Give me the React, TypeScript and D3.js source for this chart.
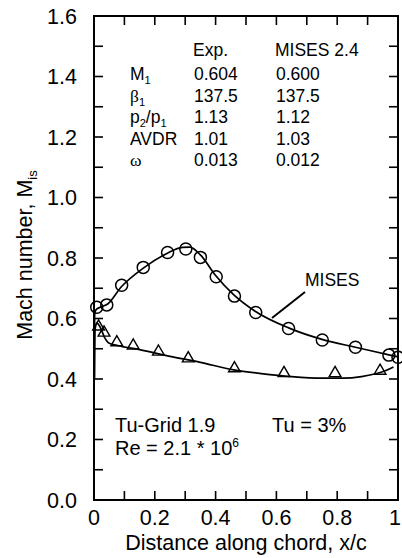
import React from "react";
import * as d3 from "d3";

// ---- data ----
const suctionExpX = [0.009, 0.042, 0.091, 0.162, 0.242, 0.302, 0.35, 0.402, 0.462, 0.532, 0.64, 0.751, 0.86, 0.97, 1.0];
const suctionExpM = [0.637, 0.645, 0.71, 0.769, 0.818, 0.83, 0.802, 0.738, 0.674, 0.62, 0.567, 0.529, 0.505, 0.479, 0.472];

const pressureExpX = [0.015, 0.033, 0.075, 0.129, 0.212, 0.31, 0.462, 0.625, 0.793, 0.941];
const pressureExpM = [0.573, 0.553, 0.521, 0.51, 0.49, 0.468, 0.435, 0.419, 0.419, 0.427];

const suctionMisesX = [0.0012, 0.002, 0.006, 0.02, 0.045, 0.09, 0.16, 0.24, 0.29, 0.315, 0.35, 0.4, 0.46, 0.53, 0.64, 0.75, 0.86, 0.97, 1.0];
const suctionMisesM = [0.4, 0.61, 0.628, 0.637, 0.648, 0.705, 0.765, 0.815, 0.835, 0.836, 0.81, 0.742, 0.678, 0.624, 0.569, 0.531, 0.505, 0.48, 0.473];

const pressureMisesX = [0.0012, 0.003, 0.01, 0.02, 0.035, 0.05, 0.08, 0.15, 0.25, 0.35, 0.46, 0.55, 0.65, 0.75, 0.82, 0.88, 0.93, 0.96, 0.985];
const pressureMisesM = [0.4, 0.56, 0.585, 0.572, 0.537, 0.518, 0.51, 0.497, 0.475, 0.455, 0.43, 0.418, 0.408, 0.403, 0.403, 0.408, 0.418, 0.428, 0.44];

const xTickLabels = ["0", "0.2", "0.4", "0.6", "0.8", "1"];
const yTickLabels = ["0.0", "0.2", "0.4", "0.6", "0.8", "1.0", "1.2", "1.4", "1.6"];

const tableHeader = ["Exp.", "MISES 2.4"];
const tableRows = ["M1", "beta1", "p2/p1", "AVDR", "omega"];
const tableExp = ["0.604", "137.5", "1.13", "1.01", "0.013"];
const tableMises = ["0.600", "137.5", "1.12", "1.03", "0.012"];

const FONT = "'Liberation Sans', Arial, Helvetica, sans-serif";

export default function App() {
  const W = 402, H = 558;
  const x = d3.scaleLinear().domain([0, 1]).range([94, 398]);
  const y = d3.scaleLinear().domain([0, 1.6]).range([500, 16]);
  const line = d3.line<[number, number]>().x(d => x(d[0])).y(d => y(d[1])).curve(d3.curveMonotoneX);

  const minorX = d3.range(1, 10).map(i => i / 10);
  const minorY = d3.range(1, 16).map(i => i / 10);
  const tl = 9;

  const tri = d3.symbol().type(d3.symbolTriangle).size(60)();

  const rowBase = [80, 101.5, 123, 144.5, 166];

  const rowLabel = (k: string) => {
    const sub = { fontSize: 11, baselineShift: "-4px" } as any;
    if (k === "M1") return (<>M<tspan style={sub}>1</tspan></>);
    if (k === "beta1") return (<tspan fontFamily="'Liberation Serif', serif">β<tspan style={sub} fontFamily={FONT}>1</tspan></tspan>);
    if (k === "p2/p1") return (<>p<tspan style={sub}>2</tspan><tspan>/p</tspan><tspan style={sub}>1</tspan></>);
    if (k === "omega") return (<tspan fontFamily="'Liberation Serif', serif">ω</tspan>);
    return k;
  };

  return (
    <svg width={W} height={H} style={{ position: "absolute", left: 0, top: 0, background: "#fff" }} fontFamily={FONT}>
      <rect x={0} y={0} width={W} height={H} fill="#fff" />
      {/* ticks */}
      <g stroke="#000" strokeWidth={1.6}>
        {minorX.map(v => (
          <g key={"xt" + v}>
            <line x1={x(v)} x2={x(v)} y1={y(0)} y2={y(0) - tl} />
            <line x1={x(v)} x2={x(v)} y1={y(1.6)} y2={y(1.6) + tl} />
          </g>
        ))}
        {minorY.map(v => (
          <g key={"yt" + v}>
            <line x1={x(0)} x2={x(0) + tl} y1={y(v)} y2={y(v)} />
            <line x1={x(1)} x2={x(1) - tl} y1={y(v)} y2={y(v)} />
          </g>
        ))}
      </g>
      <rect x={x(0)} y={y(1.6)} width={x(1) - x(0)} height={y(0) - y(1.6)} fill="none" stroke="#000" strokeWidth={2} />

      {/* tick labels */}
      {xTickLabels.map((t, i) => (
        <text key={"xl" + t} x={Math.min(x(i * 0.2), 395)} y={525} fontSize={21.5} textAnchor="middle">{t}</text>
      ))}
      {yTickLabels.map((t, i) => (
        <text key={"yl" + t} x={77} y={y(i * 0.2) + 7.5} fontSize={21.5} textAnchor="end">{t}</text>
      ))}
      <text x={246} y={550} fontSize={21.5} textAnchor="middle">Distance along chord, x/c</text>
      <text transform="translate(32,255) rotate(-90)" fontSize={21.5} textAnchor="middle">
        Mach number, M<tspan fontSize={13} baselineShift="-5px">is</tspan>
      </text>

      {/* MISES curves */}
      <path d={line(suctionMisesX.map((v, i) => [v, suctionMisesM[i]]) as any) || ""} fill="none" stroke="#000" strokeWidth={1.7} />
      <path d={line(pressureMisesX.map((v, i) => [v, pressureMisesM[i]]) as any) || ""} fill="none" stroke="#000" strokeWidth={1.7} />

      {/* experiments */}
      {suctionExpX.map((v, i) => (
        <circle key={"c" + i} cx={x(v)} cy={y(suctionExpM[i])} r={6} fill="none" stroke="#000" strokeWidth={1.5} />
      ))}
      {pressureExpX.map((v, i) => (
        <path key={"t" + i} d={tri || ""} transform={`translate(${x(v)},${y(pressureExpM[i])})`} fill="none" stroke="#000" strokeWidth={1.4} />
      ))}

      {/* MISES label */}
      <text x={305} y={286} fontSize={17.5}>MISES</text>
      <line x1={305} y1={292} x2={272} y2={318} stroke="#000" strokeWidth={2} />

      {/* table */}
      <g fontSize={17.5}>
        <text x={193} y={56}>{tableHeader[0]}</text>
        <text x={275} y={56}>{tableHeader[1]}</text>
        {tableRows.map((r, i) => (
          <g key={"r" + r}>
            <text x={130} y={rowBase[i]}>{rowLabel(r)}</text>
            <text x={194} y={rowBase[i]}>{tableExp[i]}</text>
            <text x={276} y={rowBase[i]}>{tableMises[i]}</text>
          </g>
        ))}
      </g>

      {/* conditions */}
      <g fontSize={20}>
        <text x={115} y={432}>Tu-Grid 1.9</text>
        <text x={272} y={432}>Tu = 3%</text>
        <text x={115} y={455}>Re = 2.1 * 10<tspan fontSize={12} baselineShift="8px">6</tspan></text>
      </g>
    </svg>
  );
}
